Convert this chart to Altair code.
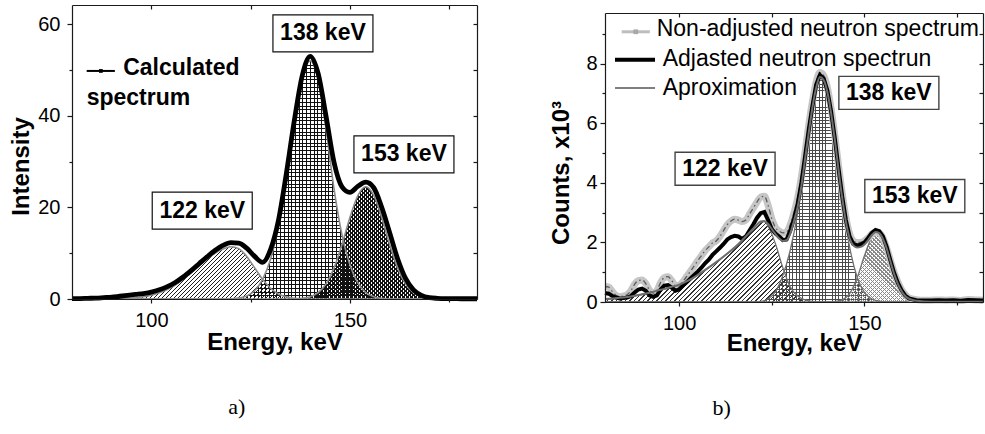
import math
import altair as alt
import pandas as pd

FONT = "Liberation Sans"
SERIF = "Liberation Serif"

# ---------------- panel a) : calculated spectrum ----------------
energy_a = [80, 82, 84, 86, 88, 90, 92, 94, 96, 98, 100, 102, 104, 106, 108, 110, 112, 114, 116, 118,
            120, 122, 124, 126, 128, 130, 132, 134, 136, 138, 140, 142, 144, 146, 148, 150, 152, 154, 156, 158,
            160, 162, 164, 166, 168, 170, 172, 174, 176, 178, 180, 182]
calculated_a = [0.1, 0.1, 0.15, 0.2, 0.3, 0.4, 0.6, 0.8, 1.0, 1.2, 1.5, 2.0, 2.7, 3.6, 4.8, 6.2, 7.7, 9.2, 10.6, 11.7,
                12.3, 12.2, 11.1, 9.3, 8.0, 10.8, 17.2, 27.5, 39.0, 48.8, 53.0, 49.2, 39.8, 29.8, 24.5, 23.3, 24.6, 25.5, 24.3, 20.0,
                14.5, 8.8, 4.5, 2.0, 0.8, 0.3, 0.15, 0.1, 0.1, 0.05, 0.05, 0.05]
peak122_a = [0, 0, 0, 0.01, 0.02, 0.04, 0.07, 0.14, 0.27, 0.49, 0.83, 1.34, 2.08, 3.06, 4.28, 5.7, 7.2, 8.7, 10.0, 10.9,
             11.4, 11.0, 9.3, 6.8, 4.3, 2.35, 1.1, 0.46, 0.17, 0.05, 0, 0, 0, 0, 0, 0, 0, 0, 0, 0,
             0, 0, 0, 0, 0, 0, 0, 0, 0, 0, 0, 0]
peak138_a = [0, 0, 0, 0, 0, 0, 0, 0, 0, 0, 0, 0, 0, 0, 0, 0, 0, 0, 0, 0,
             0.05, 0.2, 0.65, 1.8, 4.3, 8.7, 15.9, 26.0, 37.8, 48.2, 52.0, 48.0, 37.0, 24.0, 14.0, 7.5, 3.5, 1.4, 0.5, 0.15,
             0.05, 0, 0, 0, 0, 0, 0, 0, 0, 0, 0, 0]
peak153_a = [0, 0, 0, 0, 0, 0, 0, 0, 0, 0, 0, 0, 0, 0, 0, 0, 0, 0, 0, 0,
             0, 0, 0, 0, 0, 0, 0, 0, 0, 0.15, 0.5, 1.4, 3.3, 6.8, 11.9, 17.8, 22.6, 24.5, 22.6, 17.8,
             11.9, 6.8, 3.3, 1.4, 0.5, 0.15, 0.04, 0, 0, 0, 0, 0]

# ---------------- panel b) : measured neutron spectrum ----------------
energy_b = [80, 81, 82, 83, 84, 85, 86, 87, 88, 89, 90, 91, 92, 93, 94, 95, 96, 97, 98, 99,
            100, 101, 102, 103, 104, 105, 106, 107, 108, 109, 110, 111, 112, 113, 114, 115, 116, 117, 118, 119,
            120, 121, 122, 123, 124, 125, 126, 127, 128, 129, 130, 131, 132, 133, 134, 135, 136, 137, 138, 139,
            140, 141, 142, 143, 144, 145, 146, 147, 148, 149, 150, 151, 152, 153, 154, 155, 156, 157, 158, 159,
            160, 161, 162, 164, 166, 168, 170, 172, 174, 176, 178, 180, 182]
nonadjusted_b = [0.52, 0.5, 0.35, 0.22, 0.18, 0.2, 0.25, 0.38, 0.6, 0.72, 0.74, 0.62, 0.4, 0.3, 0.38, 0.65, 0.82, 0.85, 0.72, 0.55,
                 0.55, 0.68, 0.85, 1.02, 1.2, 1.38, 1.55, 1.72, 1.85, 1.98, 2.05, 2.2, 2.4, 2.6, 2.72, 2.78, 2.75, 2.7, 2.75, 2.95,
                 3.15, 3.35, 3.52, 3.55, 3.25, 2.8, 2.5, 2.38, 2.32, 2.35, 2.6, 3.0, 3.5, 4.2, 5.05, 5.95, 6.75, 7.4, 7.7, 7.6,
                 7.2, 6.5, 5.6, 4.6, 3.65, 2.85, 2.3, 2.05, 2.0, 2.0, 2.05, 2.15, 2.28, 2.35, 2.32, 2.15, 1.82, 1.4, 1.0, 0.68,
                 0.42, 0.25, 0.14, 0.08, 0.06, 0.06, 0.07, 0.06, 0.07, 0.05, 0.08, 0.07, 0.06]
adjusted_b = [0.3, 0.28, 0.2, 0.15, 0.12, 0.13, 0.15, 0.2, 0.32, 0.42, 0.45, 0.38, 0.22, 0.17, 0.22, 0.42, 0.55, 0.57, 0.48, 0.38,
              0.42, 0.55, 0.66, 0.78, 0.9, 1.02, 1.15, 1.3, 1.42, 1.58, 1.7, 1.82, 1.95, 2.1, 2.18, 2.22, 2.2, 2.12, 2.2, 2.4,
              2.6, 2.82, 2.98, 3.02, 2.75, 2.45, 2.3, 2.2, 2.08, 2.1, 2.4, 2.8, 3.3, 4.0, 4.9, 5.8, 6.6, 7.3, 7.62, 7.5,
              7.1, 6.4, 5.5, 4.5, 3.55, 2.75, 2.2, 1.95, 1.9, 1.92, 2.0, 2.15, 2.32, 2.42, 2.38, 2.2, 1.85, 1.4, 0.98, 0.65,
              0.4, 0.22, 0.12, 0.06, 0.05, 0.05, 0.06, 0.05, 0.06, 0.04, 0.07, 0.06, 0.05]
energy_fit_b = [80, 82, 84, 86, 88, 90, 92, 94, 96, 98, 100, 102, 104, 106, 108, 110, 112, 114, 116, 118, 120,
                121, 122, 123, 124, 125, 126, 127, 128, 129, 130, 131, 132, 133, 134, 135, 136, 137, 138, 139, 140,
                141, 142, 143, 144, 145, 146, 147, 148, 149, 150, 151, 152, 153, 154, 155, 156, 157, 158, 159, 160,
                161, 162, 164, 166, 170, 176, 182]
approximation_b = [0.1, 0.12, 0.14, 0.17, 0.21, 0.26, 0.31, 0.38, 0.44, 0.51, 0.58, 0.69, 0.83, 0.99, 1.16, 1.34, 1.53, 1.73, 1.95, 2.2, 2.47,
                   2.6, 2.7, 2.72, 2.62, 2.45, 2.28, 2.13, 2.05, 2.07, 2.3, 2.72, 3.2, 3.9, 4.8, 5.7, 6.55, 7.2, 7.55, 7.45, 7.05,
                   6.35, 5.45, 4.45, 3.5, 2.7, 2.15, 1.9, 1.83, 1.85, 1.93, 2.08, 2.25, 2.35, 2.31, 2.12, 1.8, 1.37, 0.95, 0.62, 0.37,
                   0.2, 0.11, 0.04, 0.02, 0.01, 0.01, 0.01]
energy_p122_b = [80, 84, 88, 92, 96, 100, 104, 108, 112, 116, 118, 120, 122, 123, 124, 126, 128, 130, 132, 134, 136, 138, 182]
peak122_b = [0.08, 0.13, 0.2, 0.3, 0.43, 0.57, 0.82, 1.15, 1.52, 1.93, 2.18, 2.45, 2.68, 2.7, 2.55, 1.95, 1.15, 0.5, 0.2, 0.07, 0.02, 0, 0]
energy_p138_b = [80, 120, 122, 124, 126, 128, 130, 132, 134, 136, 137, 138, 139, 140, 142, 144, 146, 148, 150, 152, 154, 156, 182]
peak138_b = [0, 0, 0.02, 0.1, 0.35, 0.9, 1.75, 3.0, 4.75, 6.55, 7.2, 7.55, 7.45, 7.0, 5.4, 3.45, 1.85, 0.85, 0.32, 0.1, 0.03, 0, 0]
energy_p153_b = [80, 140, 142, 144, 146, 148, 150, 152, 153, 154, 156, 158, 160, 162, 164, 166, 182]
peak153_b = [0, 0, 0.01, 0.07, 0.28, 0.8, 1.55, 2.17, 2.3, 2.24, 1.65, 0.86, 0.32, 0.08, 0.02, 0, 0]

# ---------------- annotations ----------------
peak_labels = ["122 keV", "138 keV", "153 keV"]
label_E_a = [112.8, 143.2, 163.6]
label_v_a = [19.3, 58.0, 31.6]
label_E_b = [112.4, 156.6, 163.6]
label_v_b = [4.47, 7.02, 3.56]
legend_text_b = ["Non-adjusted neutron spectrum", "Adjasted neutron spectrun", "Aproximation"]

# ---------------- geometry (one view, two panels placed by scale ranges) ----------------
VIEW_W, VIEW_H = 911, 297
XA, YA = [80, 182], [0, 64.2]
XA_R, YA_R = [0, 405], [294, 0]
XB, YB = [80, 182], [0, 9.7]
XB_R, YB_R = [533, 911], [297, 8]

CLEAR = "rgba(255,255,255,0)"


def sc(dom, rng):
    return alt.Scale(domain=dom, range=rng, nice=False, zero=False)


class P:
    def __init__(self, xd, xr, yd, yr):
        self.xd, self.xr, self.yd, self.yr = xd, xr, yd, yr

    def X(self, field="E", axis=None):
        return alt.X(f"{field}:Q", scale=sc(self.xd, self.xr), axis=axis)

    def Y(self, field="v", axis=None):
        return alt.Y(f"{field}:Q", scale=sc(self.yd, self.yr), axis=axis)

    def W(self):
        return abs(self.xr[1] - self.xr[0])

    def H(self):
        return abs(self.yr[1] - self.yr[0])


PA = P(XA, XA_R, YA, YA_R)
PB = P(XB, XB_R, YB, YB_R)


def stripes(color, n, frac, x1, y1, x2, y2):
    stops = []
    for i in range(n):
        a = round(i / n, 6)
        b = round((i + frac) / n, 6)
        c = round((i + 1) / n, 6)
        stops += [alt.GradientStop(color=color, offset=a), alt.GradientStop(color=color, offset=b),
                  alt.GradientStop(color=CLEAR, offset=b), alt.GradientStop(color=CLEAR, offset=c)]
    return alt.LinearGradient(gradient="linear", stops=stops, x1=x1, y1=y1, x2=x2, y2=y2)


def hatch(kind, color, W, H, period, lw):
    """period: pixel pitch (horizontal pitch for diagonal hatches); lw: line width in px."""
    if kind == "v":
        return stripes(color, max(1, round(W / period)), min(lw / period, 0.9), 0, 0, 1, 0)
    if kind == "h":
        return stripes(color, max(1, round(H / period)), min(lw / period, 0.9), 0, 0, 0, 1)
    r = H / W
    k = (1 + r) / (1 + r * r)
    n = max(1, round(W * (1 + r) / period))
    frac = min(lw / (period / math.sqrt(2)), 0.9)
    if kind == "up":
        return stripes(color, n, frac, 0, 0, k, k * r)
    return stripes(color, n, frac, 0, 1, k, 1 - k * r)


def bbox(p, xs, ys):
    w = (max(xs) - min(xs)) * p.W() / (p.xd[1] - p.xd[0])
    h = max(ys) * p.H() / (p.yd[1] - p.yd[0])
    return w, h


def area(p, df, col, fill):
    return alt.Chart(df).mark_area(fill=fill, interpolate="monotone").encode(x=p.X(), y=p.Y(col))


def line(p, df, col, **mk):
    return alt.Chart(df).mark_line(**mk).encode(x=p.X(), y=p.Y(col))


def axes(p, xmaj, xmin_, ymaj, ymin_, xtitle, ytitle, xty, ytx, yty, ylpad):
    d = pd.DataFrame({"E": p.xd, "v": p.yd})
    base = alt.Chart(d).mark_point(opacity=0)
    bottom_off = p.yr[0] - VIEW_H          # <= 0
    top_off = p.yr[1] - VIEW_H             # negative
    left_off = -p.xr[0]
    right_off = -p.xr[1]
    return [
        base.encode(x=p.X(axis=alt.Axis(
            orient="bottom", offset=bottom_off, values=xmaj, title=xtitle, tickSize=4, labelPadding=7, zindex=1,
            titleX=(p.xr[0] + p.xr[1]) / 2, titleY=xty, titleAlign="center", titleBaseline="middle")), y=p.Y()),
        base.encode(x=p.X(axis=alt.Axis(
            orient="bottom", offset=bottom_off, values=xmin_, title=None, labels=False, domain=False,
            tickSize=3, zindex=1)), y=p.Y()),
        base.encode(x=p.X(axis=alt.Axis(
            orient="bottom", offset=top_off, values=xmaj + xmin_, title=None, labels=False, tickSize=4,
            zindex=1)), y=p.Y()),
        base.encode(y=p.Y(axis=alt.Axis(
            orient="left", offset=left_off, values=ymaj, title=ytitle, tickSize=5, labelPadding=ylpad, zindex=1,
            titleX=ytx, titleY=yty, titleAngle=270, titleAlign="center", titleBaseline="middle")), x=p.X()),
        base.encode(y=p.Y(axis=alt.Axis(
            orient="left", offset=left_off, values=ymin_, title=None, labels=False, domain=False, tickSize=3,
            zindex=1)), x=p.X()),
        base.encode(y=p.Y(axis=alt.Axis(
            orient="left", offset=right_off, values=ymaj + ymin_, title=None, labels=False, tickSize=4,
            zindex=1)), x=p.X()),
    ]


def boxes(p, E, v, hrel, stroke, sw):
    d = pd.DataFrame({"E": E, "v": v, "t": peak_labels})
    shape = f"M-1,-{hrel}L1,-{hrel}L1,{hrel}L-1,{hrel}Z"
    b = alt.Chart(d).mark_point(shape=shape, size=10000, filled=True, fill="white", stroke=stroke,
                                strokeWidth=sw, opacity=1).encode(x=p.X(), y=p.Y())
    t = alt.Chart(d).mark_text(font=FONT, fontSize=23, fontWeight="bold", color="black",
                               align="center", baseline="middle").encode(x=p.X(), y=p.Y(), text="t:N")
    return [b, t]


def text_at(p, E, v, s, **mk):
    d = pd.DataFrame({"E": [E], "v": [v], "t": [s]})
    return alt.Chart(d).mark_text(**mk).encode(x=p.X(), y=p.Y(), text="t:N")


def seg(p, E1, E2, v, **mk):
    d = pd.DataFrame({"E": [E1], "E2": [E2], "v": [v]})
    return alt.Chart(d).mark_rule(**mk).encode(x=p.X(), x2="E2:Q", y=p.Y())


def dot(p, E, v, **mk):
    d = pd.DataFrame({"E": [E], "v": [v]})
    return alt.Chart(d).mark_point(**mk).encode(x=p.X(), y=p.Y())


# ---------------- panel a) ----------------
dfa = pd.DataFrame({"E": energy_a, "calc": calculated_a, "p122": peak122_a, "p138": peak138_a, "p153": peak153_a})
w122, h122 = bbox(PA, energy_a, peak122_a)
w138, h138 = bbox(PA, energy_a, peak138_a)
w153, h153 = bbox(PA, energy_a, peak153_a)

layers_a = [
    area(PA, dfa, "p122", hatch("up", "#1e1e1e", w122, h122, 4.0, 0.9)),
    area(PA, dfa, "p138", hatch("v", "#111111", w138, h138, 3.7, 1.0)),
    area(PA, dfa, "p138", hatch("h", "#111111", w138, h138, 3.7, 1.0)),
    area(PA, dfa, "p153", hatch("up", "#111111", w153, h153, 4.0, 1.1)),
    area(PA, dfa, "p153", hatch("down", "#111111", w153, h153, 4.0, 1.1)),
    line(PA, dfa, "p122", color="#8c8c8c", strokeWidth=1.6, interpolate="monotone"),
    line(PA, dfa, "p138", color="#8c8c8c", strokeWidth=1.6, interpolate="monotone"),
    line(PA, dfa, "p153", color="#8c8c8c", strokeWidth=1.6, interpolate="monotone"),
    line(PA, dfa, "calc", color="black", strokeWidth=4.8, interpolate="monotone"),
    seg(PA, 83.7, 90.8, 49.8, color="black", strokeWidth=2),
    dot(PA, 87.27, 49.8, shape="square", filled=True, color="black", size=14, opacity=1),
    text_at(PA, 92.9, 48.9, "Calculated", font=FONT, fontSize=23, fontWeight="bold",
            align="left", baseline="alphabetic", color="black"),
    text_at(PA, 83.7, 42.4, "spectrum", font=FONT, fontSize=23, fontWeight="bold",
            align="left", baseline="alphabetic", color="black"),
    *boxes(PA, label_E_a, label_v_a, 0.37, "#111111", 1.2),
    text_at(PA, 121.5, -23.6, "a)", font=SERIF, fontSize=22, align="center", baseline="middle", color="black"),
    *axes(PA, [100, 150], [125, 175], [0, 20, 40, 60], [10, 30, 50],
          "Energy, keV", "Intensity", 43, -50.3, 161, 7),
]

# ---------------- panel b) ----------------
dfb = pd.DataFrame({"E": energy_b, "non": nonadjusted_b, "adj": adjusted_b})
dff = pd.DataFrame({"E": energy_fit_b, "fit": approximation_b})
d122 = pd.DataFrame({"E": energy_p122_b, "p": peak122_b})
d138 = pd.DataFrame({"E": energy_p138_b, "p": peak138_b})
d153 = pd.DataFrame({"E": energy_p153_b, "p": peak153_b})
bw122, bh122 = bbox(PB, energy_p122_b, peak122_b)
bw138, bh138 = bbox(PB, energy_p138_b, peak138_b)
bw153, bh153 = bbox(PB, energy_p153_b, peak153_b)

layers_b = [
    area(PB, d122, "p", hatch("up", "#333333", bw122, bh122, 4.5, 1.0)),
    area(PB, d138, "p", hatch("v", "#4a4a4a", bw138, bh138, 3.3, 0.9)),
    area(PB, d138, "p", hatch("h", "#4a4a4a", bw138, bh138, 3.3, 0.9)),
    area(PB, d153, "p", hatch("up", "#8a8a8a", bw153, bh153, 4.0, 0.9)),
    area(PB, d153, "p", hatch("down", "#8a8a8a", bw153, bh153, 4.0, 0.9)),
    line(PB, d122, "p", color="#707070", strokeWidth=1.3, interpolate="monotone"),
    line(PB, d138, "p", color="#707070", strokeWidth=1.3, interpolate="monotone"),
    line(PB, d153, "p", color="#707070", strokeWidth=1.3, interpolate="monotone"),
    line(PB, dfb, "non", color="#c6c6c6", strokeWidth=7, interpolate="monotone"),
    line(PB, dfb, "non", color="#5a5a5a", strokeWidth=1.3, strokeDash=[5, 3, 1.5, 3], interpolate="monotone"),
    line(PB, dfb, "adj", color="black", strokeWidth=4, interpolate="linear"),
    line(PB, dff, "fit", color="#6e6e6e", strokeWidth=2, interpolate="monotone"),
    seg(PB, 84.5, 92.1, 9.07, color="#bdbdbd", strokeWidth=3),
    dot(PB, 88.3, 9.07, shape="square", filled=True, color="#a8a8a8", size=22, opacity=1),
    seg(PB, 82.7, 93.5, 8.13, color="black", strokeWidth=4),
    seg(PB, 82.7, 93.5, 7.18, color="#808080", strokeWidth=2),
    text_at(PB, 93.95, 8.93, legend_text_b[0], font=FONT, fontSize=23, align="left",
            baseline="alphabetic", color="black"),
    text_at(PB, 95.57, 7.93, legend_text_b[1], font=FONT, fontSize=23, align="left",
            baseline="alphabetic", color="black"),
    text_at(PB, 95.57, 6.95, legend_text_b[2], font=FONT, fontSize=23, align="left",
            baseline="alphabetic", color="black"),
    *boxes(PB, label_E_b, label_v_b, 0.33, "#444444", 1.4),
    text_at(PB, 111.5, -3.55, "b)", font=SERIF, fontSize=22, align="center", baseline="middle", color="black"),
    *axes(PB, [100, 150], [125, 175], [0, 2, 4, 6, 8], [1, 3, 5, 7, 9],
          "Energy, keV", "Counts, x10³", 41, -43.3, 167.5, 3),
]

chart = alt.layer(*layers_a, *layers_b).resolve_scale(
    x="independent", y="independent"
).resolve_axis(
    x="independent", y="independent"
).properties(
    width=VIEW_W, height=VIEW_H,
    padding={"left": 72, "top": 5, "right": 2, "bottom": 132},
    autosize=alt.AutoSizeParams(type="none"),
).configure_view(stroke=None).configure_axis(
    labelFont=FONT, labelFontSize=20, labelColor="black",
    titleFont=FONT, titleFontSize=24, titleFontWeight="bold", titleColor="black",
    tickColor="#1a1a1a", domainColor="#1a1a1a", domainWidth=1.2, tickWidth=1.2, grid=False,
)

chart.save("out.html", embed_options={"renderer": "svg", "actions": False})
